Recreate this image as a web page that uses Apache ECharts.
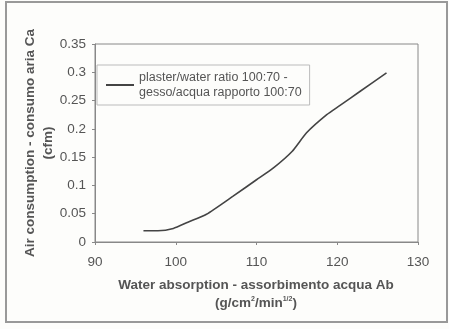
<!DOCTYPE html>
<html><head><meta charset="utf-8">
<script src="https://cdn.jsdelivr.net/npm/echarts@6/dist/echarts.min.js"></script>
<style>html,body{margin:0;padding:0;background:#fdfdfb;}#c{width:449px;height:329px;}</style>
</head><body><div id="c"></div>
<script>
const xValues = [96, 97.8, 99.7, 101.5, 103.8, 107.1, 110.0, 112.1, 114.4, 116.2, 118.7, 120.3, 122.8, 126.1];
const yValues = [0.02, 0.02, 0.024, 0.035, 0.049, 0.081, 0.110, 0.131, 0.160, 0.193, 0.225, 0.241, 0.266, 0.299];
const seriesName = 'plaster/water ratio 100:70 -\ngesso/acqua rapporto 100:70';
const xTitle = 'Water absorption - assorbimento acqua Ab';
const yTitle = 'Air consumption - consumo aria Ca\n(cfm)';

const chart = echarts.init(document.getElementById('c'));
const txt = '#555';
const F = 'Liberation Sans, Arial, sans-serif';
chart.setOption({
  backgroundColor: '#fdfdfb',
  animation: false,
  textStyle: {fontFamily: F},
  graphic: [
    {type: 'rect', shape: {x: 6, y: 2, width: 441, height: 320}, style: {fill: 'none', stroke: '#999', lineWidth: 2}},
    {type: 'text', x: 256, y: 285, style: {
      text: xTitle, align: 'center', verticalAlign: 'middle',
      fontSize: 13.5, fontWeight: 'bold', fill: txt, fontFamily: F
    }},
    {type: 'text', x: 256, y: 303, style: {
      text: '{b|(g/cm}{s|2}{b|/min}{s|1/2}{b|)}', align: 'center', verticalAlign: 'middle',
      rich: {
        b: {fontSize: 13.5, fontWeight: 'bold', fill: txt, fontFamily: F},
        s: {fontSize: 7, fontWeight: 'bold', fill: txt, verticalAlign: 'top', padding: [0,0,7,0], fontFamily: F}
      }
    }}
  ],
  grid: {left: 95, right: 31, top: 44, bottom: 87, show: true, borderColor: '#888', borderWidth: 1},
  legend: {
    show: true, left: 97, top: 65, orient: 'vertical',
    backgroundColor: '#fdfdfb', borderColor: '#bbb', borderWidth: 1, padding: [5, 8, 5, 9],
    itemWidth: 28, itemHeight: 2, itemGap: 0,
    icon: 'rect',
    textStyle: {color: txt, fontSize: 12.5, lineHeight: 15},
    data: [{name: seriesName}]
  },
  xAxis: {
    type: 'value', min: 90, max: 130, interval: 10,
    axisLine: {lineStyle: {color: '#888'}},
    axisTick: {show: true, length: 3, lineStyle: {color: '#888'}},
    axisLabel: {color: txt, fontSize: 13.5, margin: 13},
    splitLine: {show: false}
  },
  yAxis: {
    type: 'value', min: 0, max: 0.35, interval: 0.05,
    name: yTitle, nameLocation: 'middle', nameGap: 38, nameRotate: 90, nameMoveOverlap: false,
    nameTextStyle: {color: txt, fontSize: 13.5, fontWeight: 'bold', lineHeight: 18, align: 'center'},
    axisLine: {show: true, lineStyle: {color: '#888'}},
    axisTick: {show: true, length: 3, lineStyle: {color: '#888'}},
    axisLabel: {color: txt, fontSize: 13.5, margin: 9, formatter: v => String(+v.toFixed(2))},
    splitLine: {show: false}
  },
  series: [{
    name: seriesName, type: 'line', smooth: 0.2, showSymbol: false,
    lineStyle: {color: '#444', width: 1.6}, itemStyle: {color: '#444'},
    data: xValues.map((x, i) => [x, yValues[i]])
  }]
});
</script></body></html>
